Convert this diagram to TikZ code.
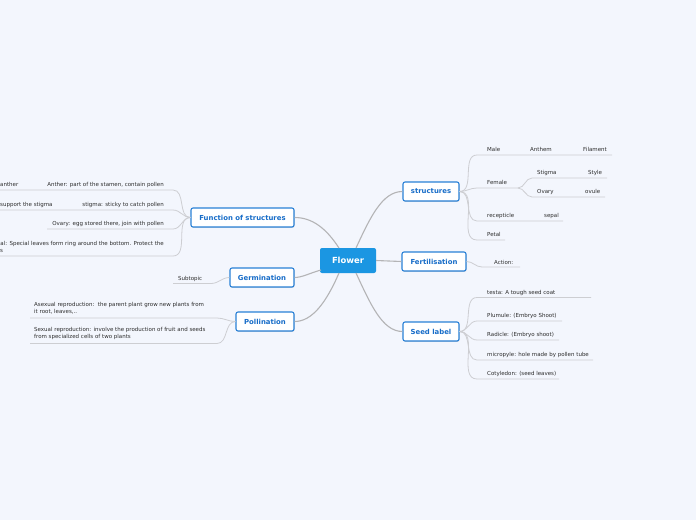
\documentclass[tikz,border=0pt]{standalone}
\usepackage{fontspec}
\setmainfont{DejaVu Sans}
\usetikzlibrary{shadows}
\definecolor{bg}{RGB}{243,246,253}
\definecolor{hub}{RGB}{27,150,226}
\definecolor{bluetext}{RGB}{22,108,200}
\definecolor{blueline}{RGB}{40,128,214}
\definecolor{maingray}{RGB}{180,180,182}
\definecolor{subgray}{RGB}{205,206,210}
\definecolor{leaftext}{RGB}{45,45,45}
\tikzset{
 hubnode/.style={fill=hub, rounded corners=2pt, minimum width=56pt, minimum height=25pt, inner sep=0pt, text=white, font=\fontsize{8.4}{9}\selectfont\bfseries},
 topic/.style={draw=blueline, line width=1.1pt, fill=white, rounded corners=2pt, minimum height=19pt, inner sep=0pt, text=bluetext, font=\fontsize{6.9}{7.5}\selectfont\bfseries, drop shadow={shadow xshift=0.5pt, shadow yshift=-0.9pt, opacity=0.25}},
 leaf/.style={inner sep=0pt, text=leaftext, font=\fontsize{5.5}{7.2}\selectfont},
 mainlink/.style={draw=maingray, line width=1.1pt},
 sublink/.style={draw=subgray, line width=0.8pt},
}
\begin{document}
\begin{tikzpicture}[x=1pt,y=-1pt]
\fill[bg] (0,0) rectangle (696,520);
\useasboundingbox (0,0) rectangle (696,520);
\clip (0,0) rectangle (696,520);

% hub and main topics
\node[hubnode] (flower) at (348,260.5) {Flower};
\node[topic, minimum width=56pt] (structures) at (431,191.5) {structures};
\node[topic, minimum width=64pt] (fert) at (434,261.5) {Fertilisation};
\node[topic, minimum width=56pt] (seed) at (431,331.5) {Seed label};
\node[topic, minimum width=103pt] (func) at (242.5,217.5) {Function of structures};
\node[topic, minimum width=64pt] (germ) at (262,277.5) {Germination};
\node[topic, minimum width=58pt] (poll) at (265,321.5) {Pollination};

% main links
\coordinate (fTopR) at (356,248);
\coordinate (fBotR) at (356,273);
\coordinate (fTopL) at (339,248);
\coordinate (fBotL) at (339,273);
\coordinate (fLeft) at (321,270);
\draw[mainlink] (fTopR) .. controls (370,218) and (382,191.5) .. (structures.west);
\draw[mainlink] (flower.east) -- (fert.west);
\draw[mainlink] (fBotR) .. controls (370,303) and (382,331.5) .. (seed.west);
\draw[mainlink] (fTopL) .. controls (326,228) and (312,217.5) .. (func.east);
\draw[mainlink] (fLeft) .. controls (310,273) and (302,277.5) .. (germ.east);
\draw[mainlink] (fBotL) .. controls (326,303) and (312,321.5) .. (poll.east);

% ---------- structures children ----------
\node[leaf, anchor=west] (male) at (487,149.5) {Male};
\node[leaf, anchor=west] (anthem) at (530,149.5) {Anthem};
\node[leaf, anchor=west] (filament) at (583,149.5) {Filament};
\coordinate (maleA) at (477,155); \coordinate (maleB) at (522,155);
\coordinate (anthemB) at (575,155); \coordinate (filB) at (612,155);
\draw[sublink] (structures.east) to[out=0,in=180] (maleA) -- (maleB) -- (anthemB) -- (filB);

\node[leaf, anchor=west] (female) at (487,182.5) {Female};
\coordinate (femA) at (477,188); \coordinate (femB) at (518,188);
\draw[sublink] (structures.east) to[out=0,in=180] (femA) -- (femB);
\node[leaf, anchor=west] (stigma) at (537,172.5) {Stigma};
\node[leaf, anchor=west] (style) at (588,172.5) {Style};
\coordinate (stiA) at (532,178); \coordinate (stiB) at (578,178); \coordinate (styB) at (607,178);
\draw[sublink] (femB) to[out=0,in=180] (stiA) -- (stiB) -- (styB);
\node[leaf, anchor=west] (ovary) at (537,192.5) {Ovary};
\node[leaf, anchor=west] (ovule) at (585,191.5) {ovule};
\coordinate (ovaA) at (532,197); \coordinate (ovaB) at (576,197); \coordinate (ovuB) at (605,197);
\draw[sublink] (femB) to[out=0,in=180] (ovaA) -- (ovaB) -- (ovuB);

\node[leaf, anchor=west] (recep) at (487,215.5) {recepticle};
\node[leaf, anchor=west] (sepal) at (544,215.5) {sepal};
\coordinate (recA) at (477,221); \coordinate (recB) at (536,221); \coordinate (sepB) at (563,221);
\draw[sublink] (structures.east) to[out=0,in=180] (recA) -- (recB) -- (sepB);

\node[leaf, anchor=west] (petal) at (487,234.5) {Petal};
\coordinate (petA) at (477,240); \coordinate (petB) at (505,240);
\draw[sublink] (structures.east) to[out=0,in=180] (petA) -- (petB);

% ---------- fertilisation child ----------
\node[leaf, anchor=west] (action) at (494,262.5) {Action:};
\coordinate (actA) at (482,267); \coordinate (actB) at (520,267);
\draw[sublink] (fert.east) to[out=0,in=180] (actA) -- (actB);

% ---------- seed label children ----------
\node[leaf, anchor=west] (testa) at (487,292.5) {testa: A tough seed coat};
\coordinate (tesA) at (477,297.5); \coordinate (tesB) at (591,297.5);
\draw[sublink] (seed.east) to[out=0,in=180] (tesA) -- (tesB);
\node[leaf, anchor=west] (plumule) at (487,315.5) {Plumule: (Embryo Shoot)};
\coordinate (pluA) at (477,321); \coordinate (pluB) at (562,321);
\draw[sublink] (seed.east) to[out=0,in=180] (pluA) -- (pluB);
\node[leaf, anchor=west] (radicle) at (487,334.5) {Radicle: (Embryo shoot)};
\coordinate (radA) at (477,340); \coordinate (radB) at (559,340);
\draw[sublink] (seed.east) to[out=0,in=180] (radA) -- (radB);
\node[leaf, anchor=west] (micro) at (487,354.5) {micropyle: hole made by pollen tube};
\coordinate (micA) at (477,360); \coordinate (micB) at (593,360);
\draw[sublink] (seed.east) to[out=0,in=180] (micA) -- (micB);
\node[leaf, anchor=west] (coty) at (487,373.5) {Cotyledon: (seed leaves)};
\coordinate (cotA) at (477,379); \coordinate (cotB) at (559,379);
\draw[sublink] (seed.east) to[out=0,in=180] (cotA) -- (cotB);

% ---------- function of structures children ----------
\node[leaf, anchor=east] (anther) at (164,184.5) {Anther: part of the stamen, contain pollen};
\node[leaf, anchor=west] (antherL) at (0,184.5) {anther};
\coordinate (antB) at (173,190); \coordinate (antA) at (43,190); \coordinate (antL) at (0,190);
\draw[sublink] (func.west) to[out=180,in=0] (antB) -- (antA) -- (antL);

\node[leaf, anchor=east] (stigmaF) at (164,204.5) {stigma: sticky to catch pollen};
\node[leaf, anchor=west] (supp) at (0,204.5) {support the stigma};
\coordinate (stfB) at (173,210); \coordinate (stfA) at (70,210); \coordinate (stfL) at (0,210);
\draw[sublink] (func.west) to[out=180,in=0] (stfB) -- (stfA) -- (stfL);

\node[leaf, anchor=east] (ovaryF) at (164,223.5) {Ovary: egg stored there, join with pollen};
\coordinate (ovfB) at (173,229); \coordinate (ovfA) at (47,229);
\draw[sublink] (func.west) to[out=180,in=0] (ovfB) -- (ovfA);

\node[leaf, anchor=east] (sepalF) at (164,243.5) {al: Special leaves form ring around the bottom. Protect the};
\node[leaf, anchor=west] (sepalF2) at (0,250.5) {s};
\coordinate (sefB) at (173,256); \coordinate (sefA) at (0,256);
\draw[sublink] (func.west) to[out=180,in=0] (sefB) -- (sefA);

% ---------- germination child ----------
\node[leaf, anchor=west] (subtopic) at (178,278.5) {Subtopic};
\coordinate (subB) at (211,283.5); \coordinate (subA) at (173,283.5);
\draw[sublink] (germ.west) to[out=180,in=0] (subB) -- (subA);

% ---------- pollination children ----------
\node[leaf, anchor=north west, align=left] (asexual) at (34,302) {Asexual reproduction:\ \ the parent plant grow new plants from\\it root, leaves,..};
\coordinate (asxB) at (217,318); \coordinate (asxA) at (30,318);
\draw[sublink] (poll.west) to[out=180,in=0] (asxB) -- (asxA);
\node[leaf, anchor=north west, align=left] (sexual) at (34,327) {Sexual reproduction: involve the production of fruit and seeds\\from specialized cells of two plants};
\coordinate (sxB) at (217,343.5); \coordinate (sxA) at (30,343.5);
\draw[sublink] (poll.west) to[out=180,in=0] (sxB) -- (sxA);
\end{tikzpicture}
\end{document}
